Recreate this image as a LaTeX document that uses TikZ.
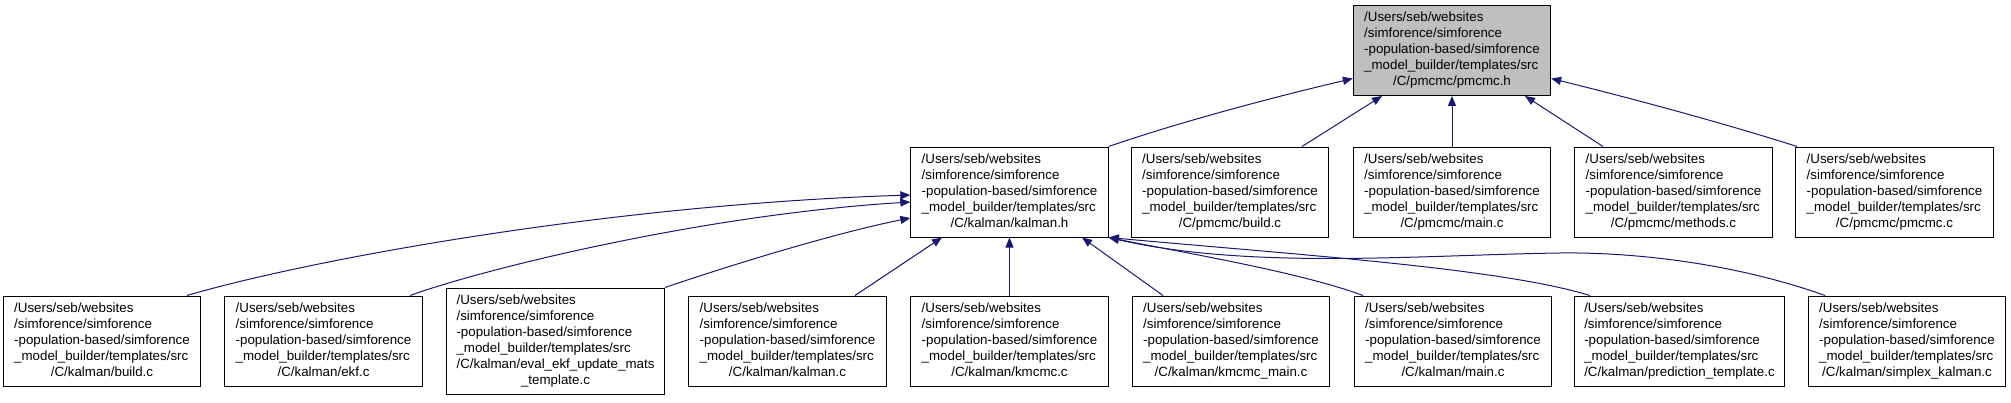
\documentclass[tikz,border=0pt]{standalone}
\usepackage{fontspec}
\setmainfont{Liberation Sans}
\usepackage{tikz}
\usetikzlibrary{arrows.meta}
\usetikzlibrary{calc}
\definecolor{edgeblue}{RGB}{25,25,112}
\definecolor{headgray}{RGB}{191,191,191}
\newcommand{\srcpath}{/Users/seb/websites\\/simforence/simforence\\-population-based/simforence\\\_model\_builder/templates/src}
\newcommand{\filelabel}[1]{\begin{tabular}{@{}l@{}}\srcpath\\\multicolumn{1}{@{}c@{}}{#1}\end{tabular}}
\newcommand{\drawedge}{\draw[edgeblue, line width=0.75pt, -{Triangle[length=7.5pt,width=6pt]}]}
\tikzset{filebox/.style={draw, line width=0.75pt, rectangle, minimum width=148pt,
    minimum height=67.5pt, inner xsep=7.5pt, inner ysep=3.75pt,
    font=\fontsize{10}{12}\selectfont}}

\begin{document}
\begin{tikzpicture}[x=0.75pt, y=-0.75pt]
    \useasboundingbox (0,0) rectangle (2011,403);

    % Draw header
    \node[filebox, fill=headgray] (pmcmch) at (1452, 50.5) {\filelabel{/C/pmcmc/pmcmc.h}};

    % Draw second row
    \node[filebox] (kalmanh) at (1009.5, 192) {\filelabel{/C/kalman/kalman.h}};
    \node[filebox] (pbuild) at (1230, 192) {\filelabel{/C/pmcmc/build.c}};
    \node[filebox] (pmain) at (1452, 192) {\filelabel{/C/pmcmc/main.c}};
    \node[filebox] (pmethods) at (1673.5, 192) {\filelabel{/C/pmcmc/methods.c}};
    \node[filebox] (ppmcmc) at (1894.5, 192) {\filelabel{/C/pmcmc/pmcmc.c}};

    % Draw third row
    \node[filebox] (kbuild) at (102, 341) {\filelabel{/C/kalman/build.c}};
    \node[filebox] (kekf) at (323.5, 341) {\filelabel{/C/kalman/ekf.c}};
    \node[filebox] (keval) at (555.5, 341) {\begin{tabular}{@{}l@{}}\srcpath\\/C/kalman/eval\_ekf\_update\_mats\\\multicolumn{1}{@{}c@{}}{\_template.c}\end{tabular}};
    \node[filebox] (kkalman) at (787.5, 341) {\filelabel{/C/kalman/kalman.c}};
    \node[filebox] (kkmcmc) at (1009.5, 341) {\filelabel{/C/kalman/kmcmc.c}};
    \node[filebox] (kkmcmcmain) at (1231, 341) {\filelabel{/C/kalman/kmcmc\_main.c}};
    \node[filebox] (kmain) at (1453, 341) {\filelabel{/C/kalman/main.c}};
    \node[filebox] (kpred) at (1679.5, 341) {\filelabel{/C/kalman/prediction\_template.c}};
    \node[filebox] (ksimplex) at (1907, 341) {\filelabel{/C/kalman/simplex\_kalman.c}};

    % Draw includes of pmcmc.h
    \drawedge (kalmanh.north east) .. controls (1180,122) and (1270,98) .. ($(pmcmch.west)+(0,28)$);
    \drawedge ($(pbuild.north)+(72,0)$) -- ($(pmcmch.south)+(-70,0)$);
    \drawedge (pmain.north) -- (pmcmch.south);
    \drawedge ($(pmethods.north)+(-70.5,0)$) -- ($(pmcmch.south)+(73,0)$);
    \drawedge ($(ppmcmc.north)+(-97.5,0)$) .. controls (1720,122) and (1630,98) .. ($(pmcmch.east)+(0,28)$);

    % Draw includes of kalman.h
    \drawedge ($(kbuild.north)+(85,0)$) .. controls (300,262) and (600,205) .. ($(kalmanh.west)+(0,3)$);
    \drawedge ($(kekf.north)+(86.5,0)$) .. controls (480,270) and (700,215) .. ($(kalmanh.west)+(0,10)$);
    \drawedge (keval.north east) .. controls (740,262) and (840,232) .. ($(kalmanh.west)+(0,26)$);
    \drawedge ($(kkalman.north)+(67.5,0)$) -- ($(kalmanh.south)+(-67.5,0)$);
    \drawedge (kkmcmc.north) -- (kalmanh.south);
    \drawedge ($(kkmcmcmain.north)+(-68,0)$) -- ($(kalmanh.south)+(72.5,0)$);
    \drawedge ($(kmain.north)+(-90,0)$) .. controls (1300,272) and (1180,252) .. (kalmanh.south east);
    \drawedge ($(kpred.north)+(-89.5,0)$) .. controls (1500,268) and (1300,255) .. (kalmanh.south east);
    \drawedge ($(ksimplex.north)+(-82,0)$) .. controls (1740,265) and (1640,252) .. (1560,253)
        .. controls (1420,255) and (1250,270) .. (kalmanh.south east);
\end{tikzpicture}
\end{document}
